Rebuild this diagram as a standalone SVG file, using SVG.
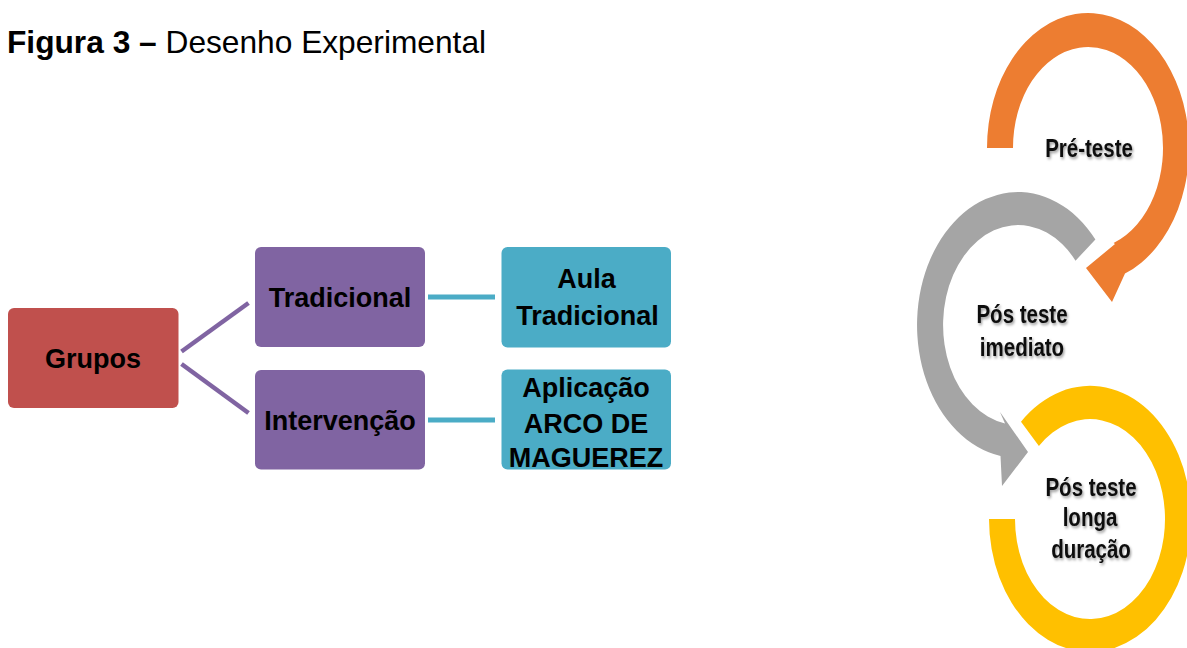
<svg xmlns="http://www.w3.org/2000/svg" width="1187" height="648" viewBox="0 0 1187 648">
<defs>
<style>
.box{stroke:none}
.red{fill:#C0504D}
.purple{fill:#8064A2}
.teal{fill:#4BACC6}
.lbl{font-family:"Liberation Sans",Arial,sans-serif;font-weight:bold;font-size:27px;fill:#000;text-anchor:middle}
.cyc{font-family:"Liberation Sans",Arial,sans-serif;font-weight:bold;font-size:20.5px;fill:#111;text-anchor:middle}
.title{font-family:"Liberation Sans",Arial,sans-serif;font-size:31.7px;fill:#000}
.pline{stroke:#8064A2;stroke-width:4.5;fill:none}
.tline{stroke:#4BACC6;stroke-width:5;fill:none}
</style>
<filter id="shadow" x="-20%" y="-40%" width="140%" height="180%">
<feDropShadow dx="1.2" dy="1.5" stdDeviation="1.1" flood-color="#000" flood-opacity="0.4"/>
</filter>
</defs>
<rect width="1187" height="648" fill="#fff"/>
<g id="title">
<text class="title" x="7" y="53"><tspan font-weight="bold">Figura 3 –</tspan> Desenho Experimental</text>
</g>
<g id="connectors">
<line class="pline" x1="181.5" y1="351.5" x2="248.5" y2="303"/>
<line class="pline" x1="181.5" y1="364" x2="248.5" y2="413"/>
<line class="tline" x1="428" y1="297" x2="495" y2="297"/>
<line class="tline" x1="428" y1="420" x2="495" y2="420"/>
</g>
<g id="node-grupos">
<rect class="box red" x="8" y="308" width="170.5" height="100" rx="6"/>
<text class="lbl" x="93" y="368">Grupos</text>
</g>
<g id="node-tradicional">
<rect class="box purple" x="255" y="247" width="170" height="100" rx="6"/>
<text class="lbl" x="340" y="307">Tradicional</text>
</g>
<g id="node-intervencao">
<rect class="box purple" x="255" y="370" width="170" height="99.5" rx="6"/>
<text class="lbl" x="340" y="430">Intervenção</text>
</g>
<g id="node-aula">
<rect class="box teal" x="501.5" y="247" width="169.5" height="100.5" rx="6"/>
<text class="lbl" x="586.5" y="288">Aula</text>
<text class="lbl" x="587.5" y="325">Tradicional</text>
</g>
<g id="node-aplicacao">
<rect class="box teal" x="501.5" y="369.5" width="169.5" height="100" rx="6"/>
<text class="lbl" x="586" y="397">Aplicação</text>
<text class="lbl" x="586" y="433">ARCO DE</text>
<text class="lbl" x="586" y="467">MAGUEREZ</text>
</g>
<g id="node-pre-teste">
<path fill="#ED7D31" d="M987 148 A101 135 0 1 1 1125 273.6 L1112 302 L1086 268 L1115 244 L1113.6 242.9 A75 101 0 1 0 1013 148 Z"/>
<g transform="translate(1089 157) scale(1 1.3)"><text class="cyc" x="0" y="0" filter="url(#shadow)">Pré-teste</text></g>
</g>
<g id="node-pos-imediato">
<path fill="#A5A5A5" d="M1095.4 239.5 A101 133 0 1 0 1000.5 456 L1002 486 L1028 452 L1000 412 L1005 423.5 A75 100 0 1 1 1075.5 260.7 Z"/>
<g transform="translate(1022 323) scale(1 1.3)"><text class="cyc" x="0" y="0" filter="url(#shadow)">Pós teste</text></g>
<g transform="translate(1022 356) scale(1 1.3)"><text class="cyc" x="0" y="0" filter="url(#shadow)">imediato</text></g>
</g>
<g id="node-pos-longa">
<path fill="#FFC000" d="M1021 421.7 A101 133 0 1 1 989 519 L1015 519 A75 100 0 1 0 1038.9 445.9 Z"/>
<g transform="translate(1091 496) scale(1 1.3)"><text class="cyc" x="0" y="0" filter="url(#shadow)">Pós teste</text></g>
<g transform="translate(1090 526) scale(1 1.3)"><text class="cyc" x="0" y="0" filter="url(#shadow)">longa</text></g>
<g transform="translate(1091 558) scale(1 1.3)"><text class="cyc" x="0" y="0" filter="url(#shadow)">duração</text></g>
</g>
</svg>
